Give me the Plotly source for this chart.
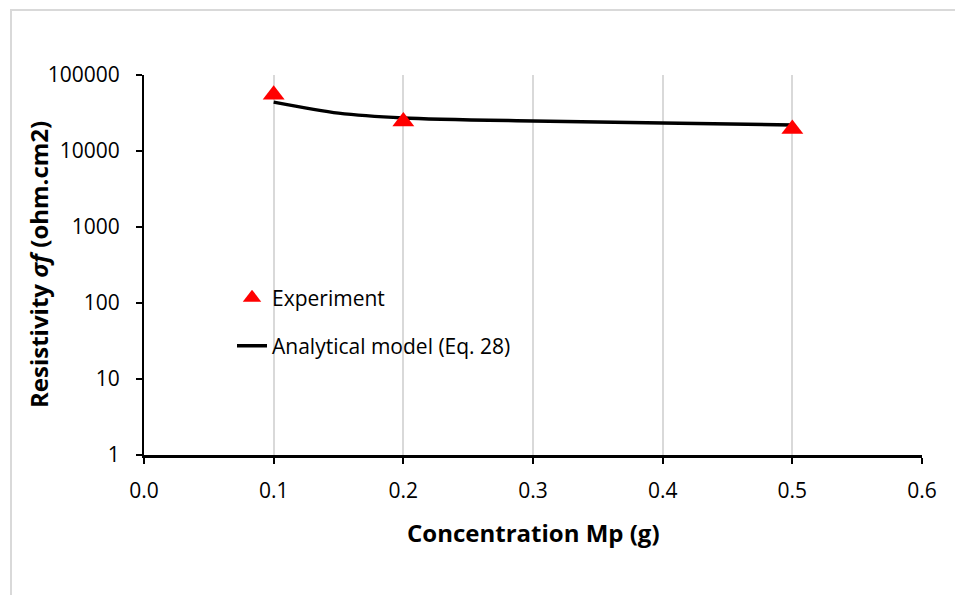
import plotly.graph_objects as go

# Data
exp_x = [0.1, 0.2, 0.5]
exp_y = [55000, 24500, 19500]
model_x = [0.1, 0.15, 0.2, 0.3, 0.4, 0.5]
model_y = [44000, 31500, 27200, 24800, 23300, 22000]
y_tickvals = [1, 10, 100, 1000, 10000, 100000]
y_ticktext = ["1", "10", "100", "1000", "10000", "100000"]
x_tickvals = [0.0, 0.1, 0.2, 0.3, 0.4, 0.5, 0.6]
x_ticktext = ["0.0", "0.1", "0.2", "0.3", "0.4", "0.5", "0.6"]

FONT = "Open Sans"

fig = go.Figure()
fig.add_trace(go.Scatter(
    x=model_x, y=model_y, mode="lines", name="Analytical model (Eq. 28)",
    line=dict(color="black", width=3.5, shape="spline", smoothing=0.8),
    legend="legend2",
))
fig.add_trace(go.Scatter(
    x=exp_x, y=exp_y, mode="markers", name="Experiment",
    marker=dict(symbol="triangle-up", color="#ff0000", size=19),
    legend="legend",
))

# page offset of the figure (body margin) in the screenshot
OX, OY = 8, 8
W, H = 963, 595
# plot area in screen coordinates
SX0, SX1, SY0, SY1 = 144, 922, 75, 455
L = SX0 - OX
T = SY0 - OY
R = W - (SX1 - OX)
B = H - (SY1 - OY)
pw, ph = SX1 - SX0, SY1 - SY0

def px(x):
    return (x - SX0) / pw

def py(y):
    return (SY1 - y) / ph

fig.update_layout(
    width=W, height=H,
    margin=dict(l=L, r=R, t=T, b=B),
    paper_bgcolor="white", plot_bgcolor="white",
    font=dict(family=FONT, color="black", size=20),
    showlegend=True,
    legend=dict(x=px(232), y=py(298), xanchor="left", yanchor="middle",
                bgcolor="rgba(0,0,0,0)", font=dict(size=21, family=FONT)),
    legend2=dict(x=px(232), y=py(346), xanchor="left", yanchor="middle",
                 bgcolor="rgba(0,0,0,0)", font=dict(size=21, family=FONT)),
    xaxis=dict(
        range=[0, 0.6], tickvals=x_tickvals, ticktext=x_ticktext,
        showgrid=True, gridcolor="#d9d9d9", gridwidth=2,
        showline=True, linecolor="black", linewidth=3,
        ticks="outside", ticklen=6, tickwidth=2, tickcolor="black",
        tickfont=dict(size=21, family=FONT), ticklabelstandoff=9,
        zeroline=False,
    ),
    yaxis=dict(
        type="log", range=[0, 5], tickvals=y_tickvals, ticktext=y_ticktext,
        showgrid=False,
        showline=True, linecolor="black", linewidth=2,
        ticks="outside", ticklen=6, tickwidth=2, tickcolor="black",
        tickfont=dict(size=21, family=FONT), ticklabelstandoff=12,
        zeroline=False,
    ),
    annotations=[
        dict(text="<b>Concentration Mp (g)</b>", xref="paper", yref="paper",
             x=px(533), y=py(532), showarrow=False,
             font=dict(size=24, family=FONT), xanchor="center", yanchor="middle"),
        dict(text="<b>Resistivity <i>σf</i> (ohm.cm2)</b>", xref="paper", yref="paper",
             x=px(38), y=py(265), showarrow=False, textangle=-90,
             font=dict(size=24, family=FONT), xanchor="center", yanchor="middle"),
    ],
    shapes=[
        dict(type="rect", xref="paper", yref="paper",
             x0=px(11), y0=py(700), x1=px(1100), y1=py(10),
             line=dict(color="#d9d9d9", width=2), fillcolor="rgba(0,0,0,0)", layer="below"),
    ],
)

fig.write_html("out.html")
